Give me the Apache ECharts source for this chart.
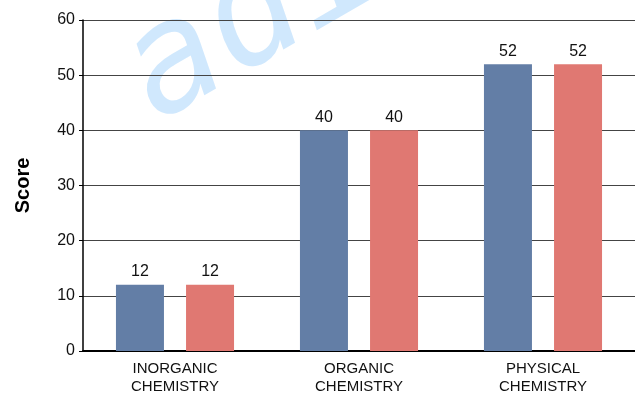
<!DOCTYPE html>
<html>
<head>
<meta charset="utf-8">
<script src="https://cdn.jsdelivr.net/npm/echarts@6/dist/echarts.min.js"></script>
<style>
  html, body { margin: 0; padding: 0; background: #fff; }
  #chart { width: 635px; height: 396px; }
</style>
</head>
<body>
<div id="chart"></div>
<script>
// Chemistry branch scores
const categories = ['INORGANIC\nCHEMISTRY', 'ORGANIC\nCHEMISTRY', 'PHYSICAL\nCHEMISTRY'];
const seriesA = [12, 40, 52];
const seriesB = [12, 40, 52];
const yTicks = { min: 0, max: 60, interval: 10 };

const FONT = 'Liberation Sans, Arial, sans-serif';

const chart = echarts.init(document.getElementById('chart'));

const labelStyle = {
  show: true,
  position: 'top',
  distance: 5,
  color: '#111',
  fontSize: 16,
  fontFamily: FONT
};

chart.setOption({
  animation: false,
  backgroundColor: '#fff',
  graphic: [{
    type: 'text',
    x: 137,
    y: 89,
    rotation: Math.PI / 6,
    z: -10,
    style: {
      text: 'adi',
      fontFamily: '"DejaVu Sans Mono", monospace',
      fontSize: 150,
      fontStyle: 'italic',
      fill: 'rgba(150, 205, 250, 0.45)',
      align: 'left',
      verticalAlign: 'middle'
    }
  }],
  grid: { left: 83, right: -4, top: 20, bottom: 44, containLabel: false },
  xAxis: {
    type: 'category',
    data: categories,
    axisLine: { lineStyle: { color: '#000', width: 2 } },
    axisTick: { show: false },
    axisLabel: {
      color: '#111',
      fontSize: 15,
      fontFamily: FONT,
      lineHeight: 18,
      margin: 9,
      interval: 0
    },
    splitLine: { show: false }
  },
  yAxis: {
    type: 'value',
    min: yTicks.min,
    max: yTicks.max,
    interval: yTicks.interval,
    name: 'Score',
    nameLocation: 'middle',
    nameGap: 50,
    nameTextStyle: { color: '#000', fontSize: 20, fontWeight: 'bold', fontFamily: FONT },
    axisLine: { show: true, lineStyle: { color: '#000', width: 1.5 } },
    axisTick: { show: true, length: 4, lineStyle: { color: '#000' } },
    axisLabel: { color: '#111', fontSize: 16, fontFamily: FONT, margin: 8 },
    splitLine: { show: true, lineStyle: { color: '#444', width: 1 } }
  },
  series: [
    {
      name: 'Series A',
      type: 'bar',
      data: seriesA,
      barWidth: 48,
      barGap: '46%',
      itemStyle: { color: '#637ea6' },
      label: labelStyle
    },
    {
      name: 'Series B',
      type: 'bar',
      data: seriesB,
      barWidth: 48,
      itemStyle: { color: '#e07872' },
      label: labelStyle
    }
  ]
});
</script>
</body>
</html>
